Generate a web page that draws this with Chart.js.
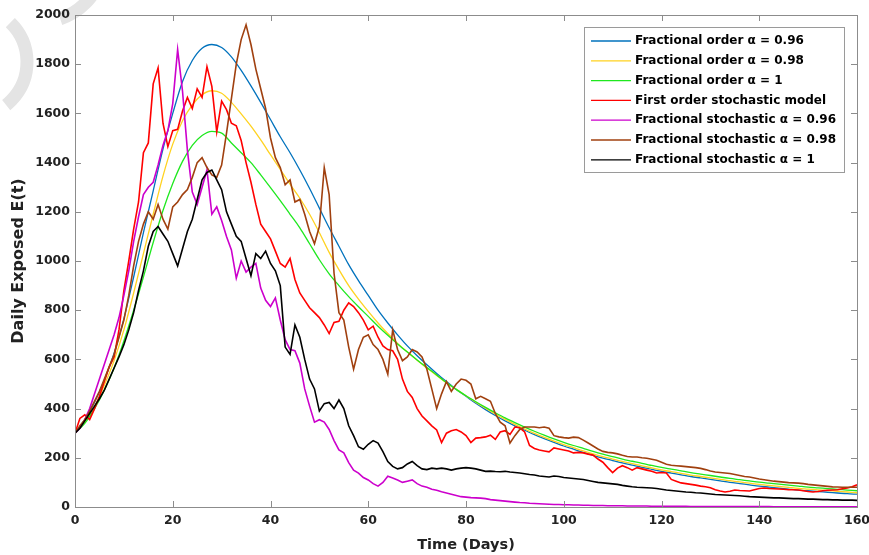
<!DOCTYPE html>
<html>
<head>
<meta charset="utf-8">
<title>Daily Exposed E(t)</title>
<script src="https://cdn.jsdelivr.net/npm/chart.js@4.4.1/dist/chart.umd.min.js"></script>
<style>
    html, body { margin: 0; padding: 0; background: #ffffff; }
    #wrap { position: relative; width: 869px; height: 555px; }
</style>
</head>
<body>
<div id="wrap"><canvas id="grafico" width="869" height="555"></canvas></div>
<script>
// Time grids (days)
const days = Array.from({ length: 161 }, (_, i) => i);
const smoothDays = Array.from({ length: 81 }, (_, i) => i * 2);

const xTicks = [0, 20, 40, 60, 80, 100, 120, 140, 160];
const yTicks = [0, 200, 400, 600, 800, 1000, 1200, 1400, 1600, 1800, 2000];

// Deterministic fractional-order curves, every 2 days
const frac096 = [300, 355, 425, 515, 625, 765, 935, 1115, 1285, 1455, 1600, 1730, 1815, 1865, 1880, 1868, 1830, 1775, 1712, 1645,
    1575, 1505, 1440, 1370, 1295, 1215, 1135, 1060, 985, 920, 860, 800, 748, 700, 655, 615, 578, 543, 510, 478,
    450, 422, 396, 372, 350, 330, 312, 294, 278, 263, 248, 235, 222, 210, 199, 189, 179, 170, 161, 153,
    145, 138, 131, 124, 118, 112, 106, 100, 95, 90, 85, 81, 77, 73, 69, 66, 63, 60, 57, 54, 52];
const frac098 = [300, 345, 410, 495, 595, 720, 870, 1030, 1190, 1345, 1475, 1570, 1635, 1676, 1692, 1682, 1645, 1598, 1548, 1492,
    1432, 1372, 1312, 1255, 1190, 1115, 1035, 965, 900, 845, 795, 748, 705, 665, 630, 597, 565, 535, 505, 478,
    452, 426, 402, 378, 356, 336, 317, 299, 283, 268, 254, 241, 228, 216, 205, 195, 185, 176, 167, 159,
    151, 144, 137, 130, 124, 118, 112, 107, 102, 97, 92, 88, 84, 80, 76, 73, 70, 67, 64, 61, 58];
const frac100 = [300, 340, 400, 475, 565, 675, 800, 935, 1075, 1205, 1315, 1405, 1470, 1510, 1527, 1520, 1480, 1440, 1400, 1350,
    1298, 1245, 1190, 1135, 1070, 1005, 948, 900, 855, 814, 775, 735, 698, 663, 630, 598, 567, 537, 505, 478,
    452, 428, 405, 383, 362, 343, 325, 308, 292, 277, 263, 250, 238, 226, 215, 205, 195, 186, 177, 169,
    161, 154, 147, 140, 134, 128, 122, 116, 111, 106, 101, 97, 93, 89, 85, 81, 78, 75, 72, 69, 66];

// Stochastic runs, one value per day
const stochFirst = [300, 360, 375, 355, 400, 450, 510, 570, 610, 720, 880,
    1000, 1130, 1240, 1440, 1480, 1720, 1785, 1560, 1465, 1530,
    1535, 1610, 1665, 1620, 1700, 1665, 1790, 1710, 1525, 1650,
    1615, 1560, 1550, 1490, 1400, 1320, 1230, 1150, 1120, 1090,
    1040, 990, 975, 1010, 925, 870, 840, 810, 790, 770,
    740, 705, 750, 755, 800, 830, 815, 790, 760, 720,
    735, 690, 655, 640, 635, 600, 520, 470, 445, 400,
    370, 350, 330, 313, 262, 300, 310, 315, 305, 290,
    262, 280, 282, 285, 292, 275, 305, 310, 295, 325,
    322, 305, 250, 238, 232, 228, 224, 240, 236, 232,
    228, 220, 222, 220, 215, 211, 195, 182, 160, 140,
    158, 168, 160, 150, 160, 155, 150, 145, 138, 140,
    138, 112, 105, 98, 95, 92, 89, 85, 82, 78,
    70, 65, 61, 64, 69, 67, 66, 65, 70, 75,
    77, 75, 74, 73, 72, 70, 70, 69, 66, 63,
    61, 63, 66, 68, 69, 70, 74, 77, 82, 90];
const stoch096 = [300, 320, 355, 400, 460, 520, 580, 640, 700, 770, 860,
    960, 1080, 1180, 1270, 1300, 1320, 1390, 1470, 1530, 1640,
    1860, 1690, 1450, 1280, 1230, 1300, 1370, 1190, 1220, 1165,
    1100, 1045, 930, 1000, 955, 975, 990, 890, 840, 815,
    850, 760, 680, 640, 635, 585, 480, 410, 345, 355,
    345, 315, 270, 232, 220, 180, 150, 138, 120, 110,
    95, 85, 100, 125, 118, 110, 100, 105, 110, 95,
    85, 80, 72, 68, 62, 57, 52, 47, 42, 40,
    38, 37, 36, 34, 30, 28, 26, 24, 22, 20,
    18, 17, 15, 14, 13, 12, 11, 10, 10, 9,
    9, 8, 8, 7, 7, 6, 6, 6, 5, 5,
    5, 5, 4, 4, 4, 4, 4, 3, 3, 3,
    3, 3, 3, 3, 3, 2, 2, 2, 2, 2,
    2, 2, 2, 2, 2, 2, 2, 2, 2, 2,
    2, 2, 1, 1, 1, 1, 1, 1, 1, 1,
    1, 1, 1, 1, 1, 1, 1, 1, 1, 1];
const stoch098 = [300, 330, 355, 390, 430, 470, 520, 570, 620, 690, 760,
    860, 980, 1080, 1150, 1200, 1170, 1230, 1170, 1130, 1220,
    1240, 1270, 1290, 1340, 1400, 1420, 1380, 1350, 1340, 1390,
    1520, 1660, 1800, 1900, 1960, 1880, 1780, 1700, 1620, 1500,
    1420, 1380, 1310, 1330, 1240, 1250, 1190, 1120, 1070, 1140,
    1380, 1270, 950, 790, 760, 650, 560, 640, 690, 700,
    660, 640, 600, 540, 720, 640, 595, 610, 640, 630,
    610, 560, 480, 400, 460, 510, 470, 500, 520, 515,
    500, 440, 450, 440, 430, 380, 345, 330, 260, 290,
    315, 325, 325, 325, 322, 325, 320, 290, 285, 282,
    280, 284, 282, 272, 260, 248, 236, 226, 222, 220,
    216, 210, 205, 203, 203, 200, 198, 194, 190, 182,
    174, 170, 168, 166, 164, 162, 160, 157, 152, 146,
    142, 140, 138, 136, 132, 128, 124, 122, 118, 114,
    111, 108, 105, 103, 101, 99, 98, 97, 95, 92,
    90, 88, 86, 84, 82, 81, 80, 80, 80, 80];
const stoch100 = [300, 320, 350, 380, 410, 440, 475, 520, 565, 610, 660,
    720, 790, 880, 960, 1060, 1120, 1140, 1110, 1080, 1030,
    980, 1050, 1120, 1170, 1250, 1330, 1360, 1370, 1330, 1290,
    1200, 1150, 1100, 1080, 1010, 940, 1030, 1010, 1040, 990,
    960, 900, 650, 620, 740, 690, 600, 520, 480, 390,
    420, 425, 400, 435, 400, 330, 290, 245, 235, 255,
    270, 260, 225, 185, 165, 155, 160, 175, 185, 168,
    155, 152, 158, 155, 158, 155, 150, 155, 158, 160,
    158, 155, 150, 145, 146, 144, 143, 145, 142, 140,
    138, 135, 132, 130, 126, 124, 122, 126, 124, 120,
    118, 116, 114, 112, 108, 104, 100, 98, 96, 94,
    92, 88, 85, 82, 80, 79, 78, 77, 75, 72,
    69, 67, 65, 63, 61, 60, 58, 57, 55, 53,
    51, 50, 49, 48, 47, 46, 44, 42, 41, 40,
    39, 38, 37, 37, 36, 35, 34, 34, 33, 32,
    32, 31, 30, 30, 29, 29, 28, 28, 28, 27];

const series = [
    { label: 'Fractional order α = 0.96', t: smoothDays, v: frac096, color: '#0072BD', smooth: true },
    { label: 'Fractional order α = 0.98', t: smoothDays, v: frac098, color: '#FFD21F', smooth: true },
    { label: 'Fractional order α = 1', t: smoothDays, v: frac100, color: '#1EE81E', smooth: true },
    { label: 'First order stochastic model', t: days, v: stochFirst, color: '#FF0000', smooth: false },
    { label: 'Fractional stochastic α = 0.96', t: days, v: stoch096, color: '#CC00CC', smooth: false },
    { label: 'Fractional stochastic α = 0.98', t: days, v: stoch098, color: '#A0400F', smooth: false },
    { label: 'Fractional stochastic α = 1', t: days, v: stoch100, color: '#000000', smooth: false }
];

const FONT = "'DejaVu Sans', 'Liberation Sans', sans-serif";
const AXIS_GREY = '#8c8c8c';

// light grey mark in the upper-left corner
const marcaFondo = {
    id: 'marcaFondo',
    beforeDraw(chart) {
        const ctx = chart.ctx;
        ctx.save();
        ctx.strokeStyle = '#e4e4e4';
        ctx.lineWidth = 13;
        ctx.beginPath();
        ctx.arc(-28, 62, 55, -0.8, 0.9);
        ctx.stroke();
        ctx.beginPath();
        ctx.arc(40, -42, 64, 0.3, 1.25);
        ctx.stroke();
        ctx.restore();
    }
};

// box around the axes with inward tick marks on all four sides
const cajaEjes = {
    id: 'cajaEjes',
    afterDatasetsDraw(chart) {
        const { ctx, chartArea: a, scales } = chart;
        ctx.save();
        ctx.strokeStyle = AXIS_GREY;
        ctx.lineWidth = 1;
        ctx.strokeRect(a.left + 0.5, a.top + 0.5, a.right - a.left, a.bottom - a.top);
        ctx.beginPath();
        xTicks.forEach(v => {
            const px = Math.round(scales.x.getPixelForValue(v)) + 0.5;
            ctx.moveTo(px, a.bottom); ctx.lineTo(px, a.bottom - 6);
            ctx.moveTo(px, a.top); ctx.lineTo(px, a.top + 6);
        });
        yTicks.forEach(v => {
            const py = Math.round(scales.y.getPixelForValue(v)) + 0.5;
            ctx.moveTo(a.left, py); ctx.lineTo(a.left + 6, py);
            ctx.moveTo(a.right, py); ctx.lineTo(a.right - 6, py);
        });
        ctx.stroke();
        ctx.restore();
    }
};

// legend box in the upper right of the plot
const leyenda = {
    id: 'leyenda',
    afterDraw(chart) {
        const ctx = chart.ctx;
        const box = { x: 584, y: 27, w: 260, h: 145 };
        ctx.save();
        ctx.fillStyle = '#ffffff';
        ctx.fillRect(box.x, box.y, box.w, box.h);
        ctx.strokeStyle = '#9a9a9a';
        ctx.lineWidth = 1;
        ctx.strokeRect(box.x + 0.5, box.y + 0.5, box.w, box.h);
        ctx.font = 'bold 12px ' + FONT;
        ctx.textBaseline = 'middle';
        ctx.textAlign = 'left';
        series.forEach((s, i) => {
            const y = 41 + i * 19.8;
            ctx.strokeStyle = s.color;
            ctx.lineWidth = 1.3;
            ctx.beginPath();
            ctx.moveTo(591, y);
            ctx.lineTo(631, y);
            ctx.stroke();
            ctx.fillStyle = '#000000';
            ctx.fillText(s.label, 635, y);
        });
        ctx.restore();
    }
};

const datasets = series.map((s, i) => ({
    label: s.label,
    data: s.t.map((t, k) => ({ x: t, y: s.v[k] })),
    borderColor: s.color,
    backgroundColor: s.color,
    borderWidth: s.smooth ? 1.3 : 1.6,
    pointRadius: 0,
    fill: false,
    tension: s.smooth ? 0.4 : 0,
    cubicInterpolationMode: s.smooth ? 'monotone' : 'default',
    order: series.length - i
}));

new Chart(document.getElementById('grafico').getContext('2d'), {
    type: 'line',
    data: { datasets: datasets },
    options: {
        responsive: false,
        animation: false,
        devicePixelRatio: 1,
        layout: { padding: { top: 15, right: 12, left: 0, bottom: 0 } },
        plugins: {
            legend: { display: false },
            tooltip: { enabled: false }
        },
        scales: {
            x: {
                type: 'linear',
                min: 0,
                max: 160,
                afterFit: s => { s.height = 48; s.paddingLeft = 0; s.paddingRight = 0; },
                afterBuildTicks: s => { s.ticks = xTicks.map(v => ({ value: v })); },
                grid: { display: false, drawTicks: false },
                border: { display: false },
                ticks: {
                    padding: 6,
                    maxRotation: 0,
                    color: '#222222',
                    callback: v => String(v),
                    font: { family: FONT, size: 12.5, weight: 'bold' }
                },
                title: {
                    display: true,
                    text: 'Time (Days)',
                    color: '#222222',
                    padding: { top: 0, bottom: 1 },
                    font: { family: FONT, size: 14.5, weight: 'bold' }
                }
            },
            y: {
                min: 0,
                max: 2000,
                afterFit: s => { s.width = 75; s.paddingTop = 0; s.paddingBottom = 0; },
                afterBuildTicks: s => { s.ticks = yTicks.map(v => ({ value: v })); },
                grid: { display: false, drawTicks: false },
                border: { display: false },
                ticks: {
                    padding: 5,
                    color: '#222222',
                    callback: v => String(v),
                    font: { family: FONT, size: 12.5, weight: 'bold' }
                },
                title: {
                    display: true,
                    text: 'Daily Exposed E(t)',
                    color: '#222222',
                    padding: { top: 9, bottom: 0 },
                    font: { family: FONT, size: 16, weight: 'bold' }
                }
            }
        }
    },
    plugins: [marcaFondo, cajaEjes, leyenda]
});
</script>
</body>
</html>
